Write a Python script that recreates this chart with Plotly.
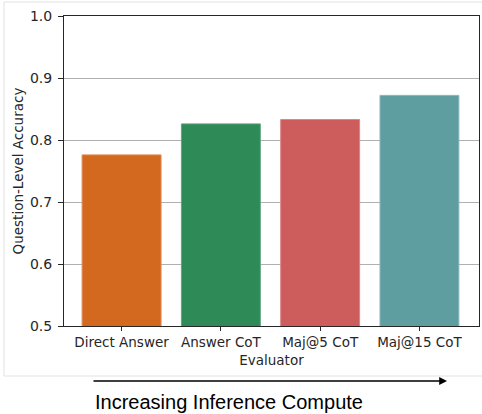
import plotly.graph_objects as go

categories = ["Direct Answer", "Answer CoT", "Maj@5 CoT", "Maj@15 CoT"]
accuracy = [0.776, 0.826, 0.833, 0.872]
colors = ["#D2691E", "#2E8B57", "#CD5C5C", "#5F9EA0"]
edge_colors = ["#E08A55", "#5FA57F", "#DC8585", "#8ABCBE"]
y_ticks = [0.5, 0.6, 0.7, 0.8, 0.9, 1.0]

W, H = 482, 414
L, R, T, B = 64, 3, 16, 88
pw, ph = W - L - R, H - T - B

def px_x(x):
    return (x - L) / pw

def px_y(y):
    return (H - B - y) / ph

fig = go.Figure()
fig.add_trace(go.Bar(
    x=categories, y=accuracy, width=0.795,
    marker=dict(color=colors, line=dict(color=edge_colors, width=1)),
    showlegend=False, hoverinfo="skip",
))

txt = "#262626"

fig.update_layout(
    width=W, height=H,
    margin=dict(l=L, r=R, t=T, b=B, pad=0),
    paper_bgcolor="white", plot_bgcolor="white",
    font=dict(family="DejaVu Sans", size=13, color=txt),
    xaxis=dict(
        range=[-0.58, 3.6], showline=True, linecolor=txt, linewidth=1,
        mirror=True, ticks="outside", ticklen=4, tickcolor=txt,
        tickfont=dict(family="DejaVu Sans", size=13.5, color=txt),
        title=dict(text="Evaluator", font=dict(family="DejaVu Sans", size=13.5, color=txt), standoff=6),
        showgrid=False, fixedrange=True,
    ),
    yaxis=dict(
        range=[0.5, 1.0], tickvals=y_ticks, ticktext=[f"{v:.1f}" for v in y_ticks],
        showline=True, linecolor=txt, linewidth=1, mirror=True,
        ticks="outside", ticklen=5, tickcolor=txt, ticklabelstandoff=3,
        tickfont=dict(family="DejaVu Sans", size=14, color=txt),
        showgrid=True, gridcolor="#b0b0b0", gridwidth=1,
        title=dict(text="Question-Level Accuracy", font=dict(family="DejaVu Sans", size=13.5, color=txt), standoff=3),
        zeroline=False, fixedrange=True,
    ),
)

# Image border (light grey frame of the screenshot)
border = "#e2e2e2"
fig.add_shape(type="line", xref="paper", yref="paper",
              x0=px_x(4), x1=px_x(4), y0=px_y(2), y1=px_y(376),
              line=dict(color=border, width=1))
fig.add_shape(type="line", xref="paper", yref="paper",
              x0=px_x(4), x1=px_x(482), y0=px_y(2), y1=px_y(2),
              line=dict(color=border, width=1))
fig.add_shape(type="line", xref="paper", yref="paper",
              x0=px_x(4), x1=px_x(482), y0=px_y(376), y1=px_y(376),
              line=dict(color=border, width=1))

# Arrow
fig.add_annotation(
    xref="paper", yref="paper", x=px_x(447), y=px_y(381),
    ax=-(447 - 92), ay=0, axref="pixel", ayref="pixel",
    showarrow=True, arrowhead=2, arrowsize=1.2, arrowwidth=1.3, arrowcolor="black",
    text="",
)
fig.add_annotation(
    xref="paper", yref="paper", x=px_x(229), y=px_y(402),
    text="Increasing Inference Compute", showarrow=False,
    font=dict(family="Liberation Sans", size=20, color="black"),
    xanchor="center", yanchor="middle",
)

fig.write_html("out.html", config={"displayModeBar": False},
               post_script="document.body.style.margin='0';document.body.style.overflow='hidden';")
